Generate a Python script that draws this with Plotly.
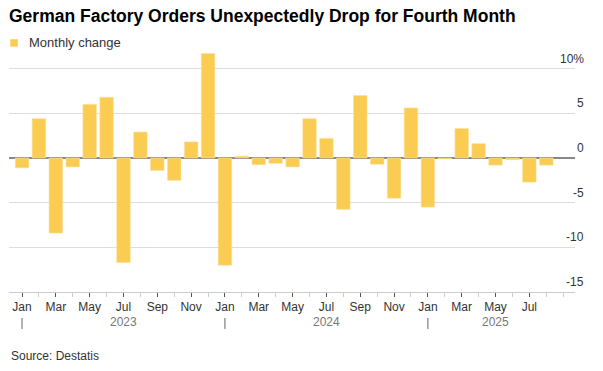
import plotly.graph_objects as go

# ---- data ----
months = ["Jan", "Feb", "Mar", "Apr", "May", "Jun", "Jul", "Aug", "Sep", "Oct", "Nov", "Dec"] * 2 + \
         ["Jan", "Feb", "Mar", "Apr", "May", "Jun", "Jul", "Aug"]
years = [2023] * 12 + [2024] * 12 + [2025] * 8
monthly_change = [
    -1.1, 4.4, -8.4, -1.0, 6.0, 6.8, -11.7, 2.9, -1.4, -2.5, 1.8, 11.7,
    -12.0, 0.2, -0.75, -0.6, -1.0, 4.4, 2.2, -5.75, 7.0, -0.7, -4.5, 5.6,
    -5.5, -0.1, 3.3, 1.6, -0.8, -0.2, -2.7, -0.8,
]
y_tick_vals = [10, 5, 0, -5, -10, -15]
y_tick_text = ["10%", "5", "0", "-5", "-10", "-15"]
year_labels = ["2023", "2024", "2025"]
series_name = "Monthly change"

x_idx = list(range(len(monthly_change)))
BAR = "#FACC52"
FONT = "Liberation Sans, Arial, sans-serif"

# plot area in pixels (for paper-coordinate conversions)
PL, PR, PT, PB = 9, 575, 49, 292
PW, PH = PR - PL, PB - PT

def px_x(px):
    return (px - PL) / PW

def px_y(py):
    return (PB - py) / PH

fig = go.Figure()
fig.add_trace(go.Bar(
    x=x_idx, y=monthly_change, name=series_name,
    marker=dict(color=BAR, line=dict(color="#FCE0A0", width=0.6)),
    width=0.8, showlegend=False,
))

major = [i for i in x_idx if i % 2 == 0]
minor = [i for i in x_idx if i % 2 == 1] + [len(x_idx)]

fig.update_xaxes(
    range=[-0.77, 32.7],
    tickmode="array", tickvals=major, ticktext=[months[i] for i in major],
    ticks="outside", ticklen=4, tickwidth=1, tickcolor="#555555",
    minor=dict(tickmode="array", tickvals=minor, ticks="outside", ticklen=4,
               tickcolor="#cccccc", tickwidth=1),
    showgrid=False, zeroline=False,
    showline=True, linecolor="#cccccc", linewidth=1,
    tickfont=dict(family=FONT, size=12, color="#333333"),
    fixedrange=True, automargin=False,
)
fig.update_yaxes(
    range=[-15, 12.2],
    tickmode="array", tickvals=y_tick_vals, showticklabels=False,
    showgrid=True, gridcolor="#dddddd", gridwidth=1,
    zeroline=True, zerolinecolor="#888888", zerolinewidth=1.5,
    fixedrange=True, automargin=False,
)

annotations = []
for v, t in zip(y_tick_vals, y_tick_text):
    annotations.append(dict(
        x=1, xref="paper", y=v, yref="y", text=t, showarrow=False,
        xanchor="right", yanchor="middle", xshift=11, yshift=10,
        font=dict(family=FONT, size=12, color="#333333"),
    ))

# year row
for yl in year_labels:
    idxs = [i for i in x_idx if str(years[i]) == yl]
    center = sum(idxs) / len(idxs) + 0.5
    annotations.append(dict(
        x=center, xref="x", y=px_y(322), yref="paper", text=yl, showarrow=False,
        xanchor="center", yanchor="middle",
        font=dict(family=FONT, size=12, color="#777777"),
    ))
    fig.add_shape(type="line", xref="x", yref="paper", x0=idxs[0], x1=idxs[0],
                  y0=px_y(318), y1=px_y(329),
                  line=dict(color="#666666", width=1))

# legend (swatch + label)
fig.add_shape(type="rect", xref="paper", yref="paper",
              x0=px_x(10.5), x1=px_x(17.5), y0=px_y(39.5), y1=px_y(46.5),
              fillcolor=BAR, line=dict(color=BAR, width=0.5), layer="above")
annotations.append(dict(
    x=px_x(27), xref="paper", y=px_y(43), yref="paper", text=series_name,
    showarrow=False, xanchor="left", yanchor="middle",
    font=dict(family=FONT, size=13, color="#333333"),
))

annotations.append(dict(
    x=0, xref="paper", y=px_y(356), yref="paper", text="Source: Destatis",
    showarrow=False, xanchor="left", yanchor="middle",
    font=dict(family=FONT, size=12, color="#333333"),
))

fig.update_layout(
    width=603, height=371,
    margin=dict(l=PL, r=603 - PR, t=PT, b=371 - PB, autoexpand=False),
    paper_bgcolor="white", plot_bgcolor="white",
    title=dict(text="<b>German Factory Orders Unexpectedly Drop for Fourth Month</b>",
               x=9 / 603, xref="container", xanchor="left",
               y=1 - 16 / 371, yref="container", yanchor="middle",
               pad=dict(l=0, r=0, t=0, b=0),
               font=dict(family=FONT, size=17.5, color="#000000")),
    showlegend=False,
    annotations=annotations,
    font=dict(family=FONT),
)

fig.write_html("out.html", config={"displayModeBar": False},
               post_script="document.body.style.margin='0';document.body.style.overflow='hidden';")
